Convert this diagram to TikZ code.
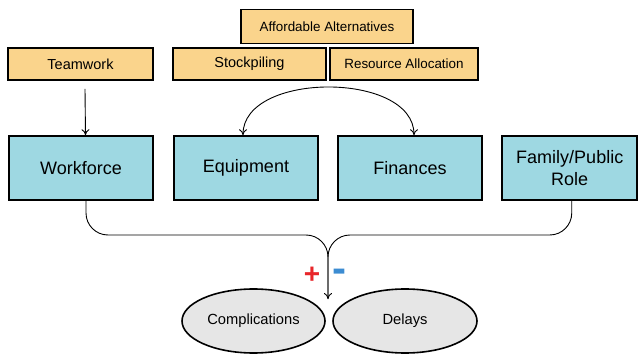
\documentclass[tikz,border=0pt]{standalone}
\usepackage{fontspec}
\setmainfont{Liberation Sans}
\usepackage{tikz}
\usetikzlibrary{shapes.geometric,arrows.meta}
\definecolor{boxorange}{HTML}{FAD48C}
\definecolor{boxblue}{HTML}{9ED8E2}
\definecolor{ovalgray}{HTML}{E6E6E6}
\definecolor{plusred}{HTML}{E8262A}
\definecolor{minusblue}{HTML}{3C8CD2}

\begin{document}
\begin{tikzpicture}[x=1pt,y=1pt,
	strategy/.style={draw,line width=1.6pt,fill=boxorange,inner sep=0pt,minimum height=32pt,font=\fontsize{14.5}{17}\selectfont},
	factor/.style={draw,line width=1.6pt,fill=boxblue,inner sep=0pt,minimum width=144pt,minimum height=64pt,align=center,font=\fontsize{18}{22}\selectfont},
	outcome/.style={draw,ellipse,line width=1.6pt,fill=ovalgray,inner sep=0pt,minimum width=143pt,minimum height=64pt,font=\fontsize{14.7}{17}\selectfont},
	link/.style={line width=0.9pt,>={To[length=6pt,width=8pt]}}]
	\useasboundingbox (0,0) rectangle (638,354);
	\node[strategy,minimum width=172pt,minimum height=34pt,font=\fontsize{13.4}{16}\selectfont] (alt) at (327,327.5) {Affordable Alternatives};
	\node[strategy,minimum width=145pt] (team) at (80.5,290) {Teamwork};
	\node[strategy,minimum width=153pt] (stock) at (249.5,290) {Stockpiling};
	\node[strategy,minimum width=148pt,font=\fontsize{13.4}{16}\selectfont] (alloc) at (404,290) {Resource Allocation};
	\node[factor] (work) at (81,186) {Workforce};
	\node[factor] (equip) at (246,186) {Equipment};
	\node[factor] (fin) at (410,186) {Finances};
	\node[factor,minimum width=135pt] (fam) at (569.75,186) {Family/Public\\Role};
	\node[outcome] (comp) at (253.5,33) {Complications};
	\node[outcome,minimum width=144pt] (delay) at (405,33) {Delays};
	\coordinate (bend) at (328,119);
	\coordinate (tip) at (328,55);
	\draw[link,->] ([xshift=4.5pt,yshift=-8pt]team.south) -- ([xshift=4.5pt]work.north);
	\draw[link,<->] ([xshift=-3pt]equip.north) .. controls +(0,64) and +(0,64) .. ([xshift=4pt]fin.north);
	\draw[link,->,rounded corners=22pt] ([xshift=5pt]work.south) |- (bend) -- (tip);
	\draw[link,rounded corners=22pt] ([xshift=2pt]fam.south) |- (bend) -- (tip);
	\node[text=plusred,font=\fontsize{28}{28}\bfseries\selectfont] (plus) at (312,79) {+};
	\node[text=minusblue,font=\fontsize{42}{42}\bfseries\selectfont] (minus) at (339.5,78) {-};
\end{tikzpicture}
\end{document}
